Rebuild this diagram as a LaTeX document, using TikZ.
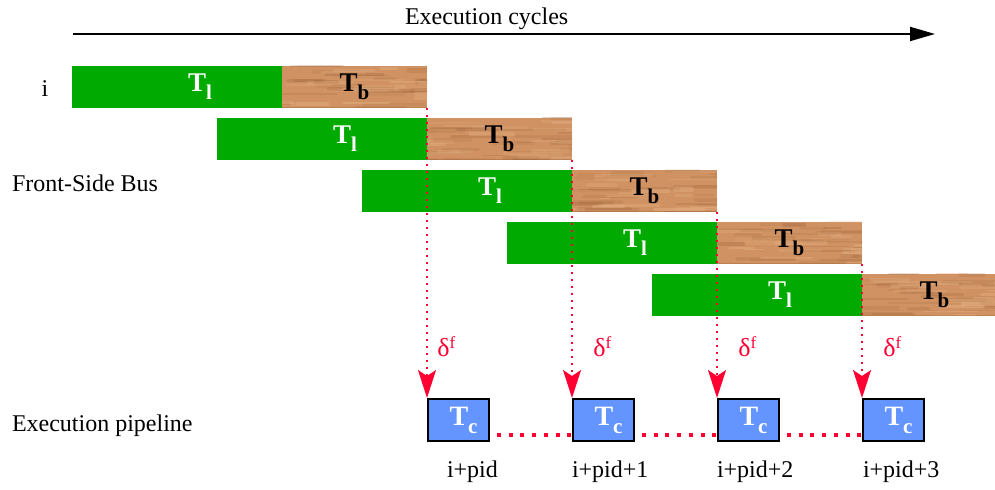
\documentclass[tikz,border=0pt]{standalone}
\usepackage{fontspec}
\setmainfont{Liberation Serif}
\usetikzlibrary{arrows.meta,calc}
\definecolor{barg}{RGB}{0,170,0}
\definecolor{wood}{RGB}{208,146,98}
\definecolor{wooddark}{RGB}{150,95,55}
\definecolor{woodlight}{RGB}{230,180,135}
\definecolor{redl}{RGB}{255,0,51}
\definecolor{boxb}{RGB}{100,149,255}
\newcommand{\Tsub}[1]{T\raisebox{-4pt}{\fontsize{10.5}{12}\selectfont #1}}
\newcommand{\dlt}{δ\raisebox{4pt}{\fontsize{8.5}{10}\selectfont f}}
\begin{document}
\begin{tikzpicture}[x=0.5pt,y=-0.5pt,
  lbl/.style={inner sep=0pt, outer sep=0pt, font=\fontsize{12}{14}\selectfont},
  greenbar/.style={rectangle, inner sep=0pt, outer sep=0pt, minimum width=105pt, minimum height=21pt, fill=barg, text=white, font=\fontsize{13.5}{15}\selectfont\bfseries},
  woodbar/.style={rectangle, inner sep=0pt, outer sep=0pt, minimum width=72.5pt, minimum height=21pt, fill=wood, text=black, font=\fontsize{13.5}{15}\selectfont\bfseries,
    path picture={
      \foreach \k in {1,...,30}{
        \pgfmathsetmacro{\px}{rnd*175-25}
        \pgfmathsetmacro{\py}{rnd*44-1}
        \pgfmathsetmacro{\pl}{15+rnd*50}
        \pgfmathsetmacro{\pw}{0.6+rnd*1.8}
        \pgfmathsetmacro{\po}{0.08+rnd*0.2}
        \draw[wooddark, line width=\pw pt, opacity=\po, line cap=round] ($(path picture bounding box.north west)+(\px,\py)$) -- ++(\pl,0);
      }
      \foreach \k in {1,...,20}{
        \pgfmathsetmacro{\px}{rnd*175-25}
        \pgfmathsetmacro{\py}{rnd*44-1}
        \pgfmathsetmacro{\pl}{15+rnd*45}
        \pgfmathsetmacro{\pw}{0.6+rnd*1.6}
        \pgfmathsetmacro{\po}{0.15+rnd*0.3}
        \draw[woodlight, line width=\pw pt, opacity=\po, line cap=round] ($(path picture bounding box.north west)+(\px,\py)$) -- ++(\pl,0);
      }
      \draw[wooddark, line width=0.6pt, opacity=0.35] (path picture bounding box.south west) -- (path picture bounding box.south east);
    }},
  cbox/.style={rectangle, inner sep=0pt, minimum width=30.5pt, minimum height=21pt, fill=boxb, draw=black, line width=1pt, text=white, font=\fontsize{14}{16}\selectfont\bfseries},
  timearrow/.style={draw=black, line width=1pt, -{Triangle[length=12.5pt,width=7pt]}},
  redarrow/.style={draw=redl, line width=1pt, dash pattern=on 1pt off 2.5pt, -{Stealth[length=14pt,width=9pt,inset=3pt]}},
  reddots/.style={draw=redl, line width=2pt, dash pattern=on 2pt off 3.85pt},
  deltalbl/.style={inner sep=0pt, text=redl, font=\fontsize{13}{15}\selectfont}
]
\pgfmathsetseed{4217}
\useasboundingbox (0,0) rectangle (995,490);

% time axis
\coordinate (a0) at (73,34);
\coordinate (a1) at (935,34);
\draw[timearrow] (a0) -- (a1);
\node[lbl, anchor=base west] (ec) at (405,25) {Execution cycles};

% side labels
\node[lbl, anchor=base] (li) at (45,97) {i};
\node[lbl, anchor=base west] (lfsb) at (12,192) {Front-Side Bus};
\node[lbl, anchor=base west] (lep) at (12,432) {Execution pipeline};

% bars
\foreach \r in {1,...,5}{
  \pgfmathsetmacro{\gx}{72+145*(\r-1)}
  \pgfmathsetmacro{\gy}{66+52*(\r-1)}
  \node[greenbar, anchor=north west] (g\r) at (\gx,\gy) {\hspace*{23pt}\Tsub{l}};
  \node[woodbar, anchor=north west] (b\r) at (g\r.north east) {\Tsub{b}};
}

% execution boxes
\foreach \c/\x in {1/427,2/572,3/717,4/862}{
  \node[cbox, anchor=north west] (c\c) at (\x,398) {\hspace*{5pt}\Tsub{c}};
}

% fetch arrows
\foreach \c in {1,...,4}{
  \draw[redarrow] (b\c.south east) -- (c\c.north west);
}
\node[deltalbl, anchor=base west] (d1) at ([xshift=5pt,yshift=20.5pt]c1.north west) {\dlt};
\node[deltalbl, anchor=base west] (d2) at ([xshift=10.5pt,yshift=20.5pt]c2.north west) {\dlt};
\node[deltalbl, anchor=base west] (d3) at ([xshift=10.5pt,yshift=20.5pt]c3.north west) {\dlt};
\node[deltalbl, anchor=base west] (d4) at ([xshift=10.5pt,yshift=20.5pt]c4.north west) {\dlt};

% pipeline dots
\foreach \c/\n in {1/2,2/3,3/4}{
  \draw[reddots] ([xshift=3.5pt,yshift=3.5pt]c\c.south east) -- ([yshift=3.5pt]c\n.south west);
}

% pipeline labels
\node[lbl, anchor=base west] (p1) at (447,478) {i+pid};
\node[lbl, anchor=base west] (p2) at (572,478) {i+pid+1};
\node[lbl, anchor=base west] (p3) at (717,478) {i+pid+2};
\node[lbl, anchor=base west] (p4) at (863,478) {i+pid+3};
\end{tikzpicture}
\end{document}
